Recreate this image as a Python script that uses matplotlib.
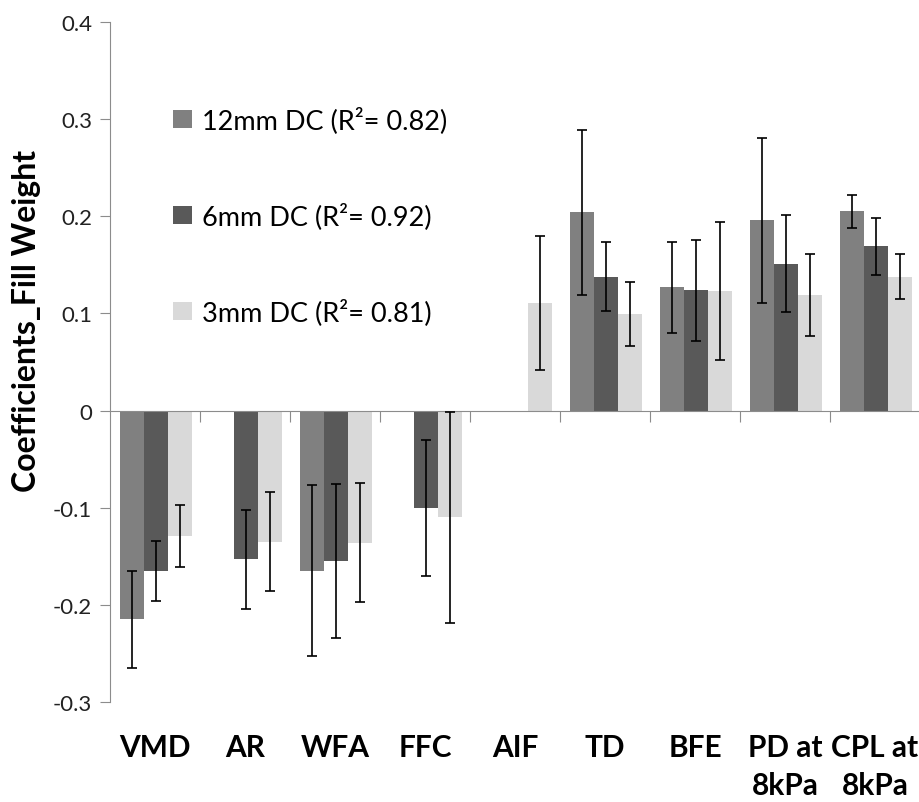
import numpy as np
import matplotlib
matplotlib.use('Agg')
import matplotlib.pyplot as plt
from matplotlib.transforms import blended_transform_factory

plt.rcParams['font.family'] = ['Lato', 'DejaVu Sans']

categorias = ['VMD', 'AR', 'WFA', 'FFC', 'AIF', 'TD', 'BFE', 'PD at\n8kPa', 'CPL at\n8kPa']
series = ['12mm DC (R²= 0.82)', '6mm DC (R²= 0.92)', '3mm DC (R²= 0.81)']
colores = ['#808080', '#595959', '#d9d9d9']

nan = np.nan
coef_12mm = [-0.215, nan, -0.165, nan, nan, 0.204, 0.127, 0.196, 0.205]
err_12mm = [0.050, nan, 0.088, nan, nan, 0.085, 0.047, 0.085, 0.017]
coef_6mm = [-0.165, -0.153, -0.155, -0.100, nan, 0.138, 0.124, 0.151, 0.169]
err_6mm = [0.031, 0.051, 0.079, 0.070, nan, 0.036, 0.052, 0.050, 0.029]
coef_3mm = [-0.129, -0.135, -0.136, -0.110, 0.111, 0.099, 0.123, 0.119, 0.138]
err_3mm = [0.032, 0.051, 0.061, 0.109, 0.069, 0.033, 0.071, 0.042, 0.023]

valores = [coef_12mm, coef_6mm, coef_3mm]
errores = [err_12mm, err_6mm, err_3mm]

fig = plt.figure(figsize=(9.19, 8.03), dpi=100)
ax = fig.add_axes([110/919, 1 - 703/803, 810/919, 680/803])

x = np.arange(len(categorias))
ancho = 0.265
for i in range(3):
    pos = x + (i - 1) * ancho + 0.01
    ax.bar(pos, valores[i], ancho, color=colores[i], label=series[i], zorder=2)
    ax.errorbar(pos, valores[i], yerr=errores[i], fmt='none', ecolor='black',
                elinewidth=1.2, capsize=3.5, capthick=1.2, zorder=3)

ax.set_xlim(-0.5, 8.5)
ax.set_ylim(-0.3, 0.4)
ax.set_yticks([-0.3, -0.2, -0.1, 0, 0.1, 0.2, 0.3, 0.4])
ax.set_yticklabels(['-0.3', '-0.2', '-0.1', '0', '0.1', '0.2', '0.3', '0.4'])

for s in ['top', 'right']:
    ax.spines[s].set_visible(False)
ax.spines['bottom'].set_position(('data', 0))
ax.spines['bottom'].set_color('#8c8c8c')
ax.spines['left'].set_color('#8c8c8c')

ax.set_xticks(np.arange(0.5, 8.5, 1))
ax.set_xticklabels([])
ax.tick_params(axis='x', direction='out', length=8, color='#8c8c8c')
ax.tick_params(axis='y', direction='out', length=7, color='#8c8c8c',
               labelsize=16, labelcolor='#222222', pad=6)

trans = blended_transform_factory(ax.transData, ax.transAxes)
for xi, nombre in zip(x, categorias):
    ax.text(xi, -0.045, nombre, transform=trans, ha='center', va='top',
            fontsize=21.5, fontweight='bold', linespacing=1.45)

fig.text(27/919, 1 - 321/803, 'Coefficients_Fill Weight', rotation=90,
         ha='center', va='center', fontsize=23, fontweight='bold')

ax.legend(loc='upper left', bbox_to_anchor=(0.078, 0.876), frameon=False,
          fontsize=19.5, handlelength=0.68, handleheight=0.68, handletextpad=0.4,
          labelspacing=2.55, borderpad=0, borderaxespad=0)

fig.savefig('out.png', dpi=100)
